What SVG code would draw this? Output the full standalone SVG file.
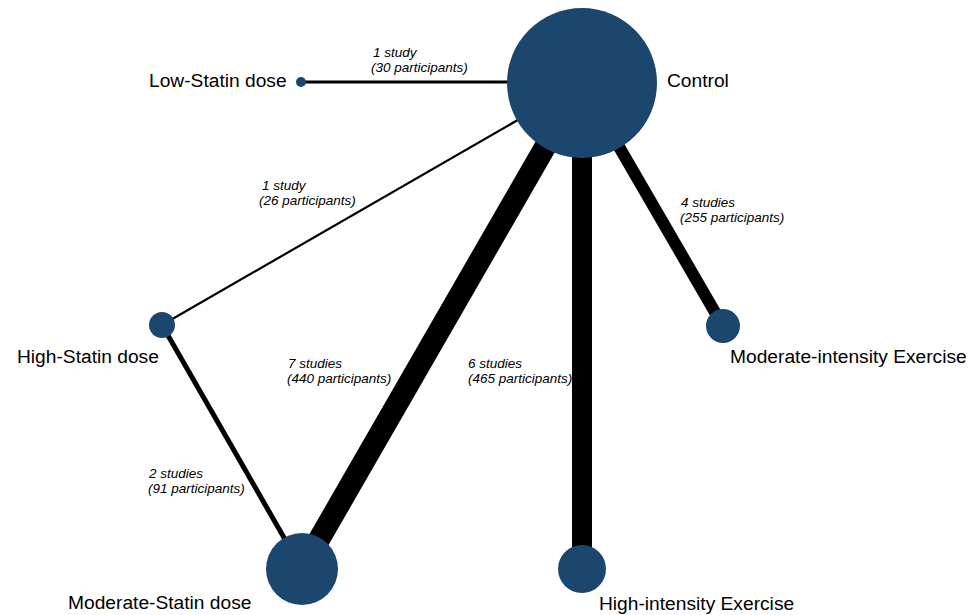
<svg xmlns="http://www.w3.org/2000/svg" width="977" height="615" viewBox="0 0 977 615">
<style>
.node{fill:#1b466e}
.lbl{font-family:"Liberation Sans",Arial,sans-serif;font-size:19.2px;fill:#000}
.elbl{font-family:"Liberation Sans",Arial,sans-serif;font-size:13.5px;font-style:italic;fill:#000}
.edge{stroke:#000;fill:none}
</style>
<rect width="977" height="615" fill="#fff"/>
<g id="connectors">
<line class="edge" x1="301" y1="82" x2="582" y2="82" stroke-width="3"/>
<line class="edge" x1="582" y1="83" x2="162" y2="325" stroke-width="2.2"/>
<line class="edge" x1="162" y1="325" x2="302" y2="569" stroke-width="5"/>
<line class="edge" x1="582" y1="83" x2="302" y2="569" stroke-width="22"/>
<line class="edge" x1="582" y1="83" x2="582" y2="569" stroke-width="20"/>
<line class="edge" x1="582" y1="83" x2="723" y2="326" stroke-width="12"/>
<text class="elbl" x="373" y="57">1 study</text>
<text class="elbl" x="371" y="72">(30 participants)</text>
<text class="elbl" x="262" y="190">1 study</text>
<text class="elbl" x="259" y="205">(26 participants)</text>
<text class="elbl" x="288" y="368">7 studies</text>
<text class="elbl" x="287" y="383">(440 participants)</text>
<text class="elbl" x="468" y="368">6 studies</text>
<text class="elbl" x="468" y="383">(465 participants)</text>
<text class="elbl" x="149" y="478">2 studies</text>
<text class="elbl" x="148" y="493">(91 participants)</text>
<text class="elbl" x="681" y="207">4 studies</text>
<text class="elbl" x="680" y="222">(255 participants)</text>
</g>
<g id="node-control">
<circle class="node" cx="582" cy="83" r="75"/>
<text class="lbl" x="667" y="87">Control</text>
</g>
<g id="node-low-statin">
<circle class="node" cx="301" cy="82" r="5"/>
<text class="lbl" x="149" y="87">Low-Statin dose</text>
</g>
<g id="node-high-statin">
<circle class="node" cx="162" cy="325" r="13"/>
<text class="lbl" x="17" y="363">High-Statin dose</text>
</g>
<g id="node-moderate-statin">
<circle class="node" cx="302" cy="569" r="36"/>
<text class="lbl" x="68" y="609">Moderate-Statin dose</text>
</g>
<g id="node-high-exercise">
<circle class="node" cx="582" cy="569" r="24"/>
<text class="lbl" x="599" y="610">High-intensity Exercise</text>
</g>
<g id="node-moderate-exercise">
<circle class="node" cx="723" cy="326" r="17"/>
<text class="lbl" x="730" y="363">Moderate-intensity Exercise</text>
</g>
</svg>
